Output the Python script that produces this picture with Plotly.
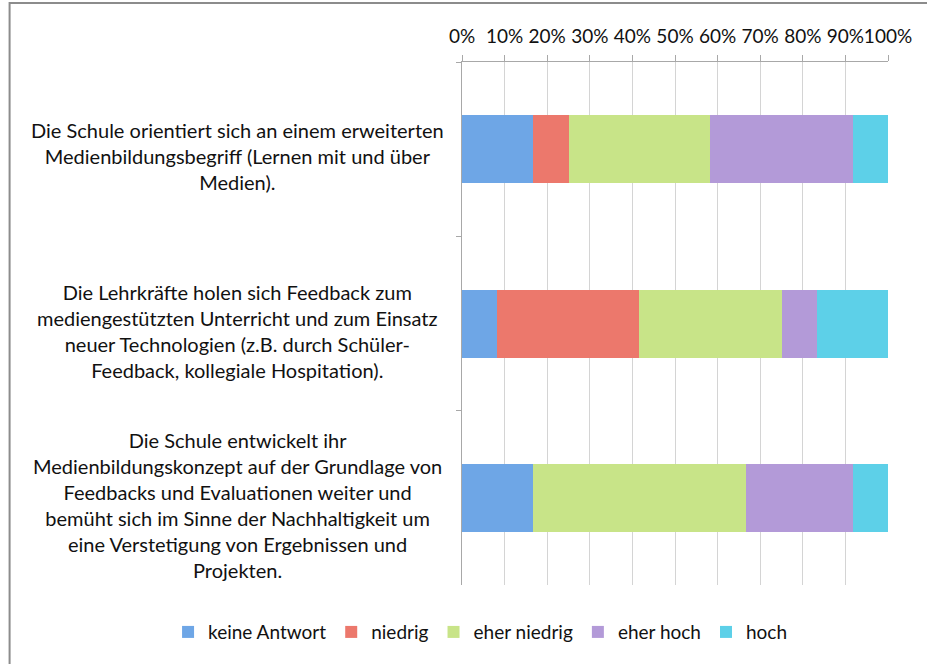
import plotly.graph_objects as go

# Statements (top to bottom)
statements = [
    "Die Schule orientiert sich an einem erweiterten<br>Medienbildungsbegriff (Lernen mit und über<br>Medien).",
    "Die Lehrkräfte holen sich Feedback zum<br>mediengestützten Unterricht und zum Einsatz<br>neuer Technologien (z.B. durch Schüler-<br>Feedback, kollegiale Hospitation).",
    "Die Schule entwickelt ihr<br>Medienbildungskonzept auf der Grundlage von<br>Feedbacks und Evaluationen weiter und<br>bemüht sich im Sinne der Nachhaltigkeit um<br>eine Verstetigung von Ergebnissen und<br>Projekten.",
]
categories = ["A1", "A2", "A3"]

# Share of answers per rating (percent)
keine_antwort = [16.7, 8.3, 16.7]
niedrig = [8.3, 33.3, 0.0]
eher_niedrig = [33.3, 33.4, 50.0]
eher_hoch = [33.4, 8.3, 25.0]
hoch = [8.3, 16.7, 8.3]

series = [
    ("keine Antwort", keine_antwort, "#6ea6e6"),
    ("niedrig", niedrig, "#ec786c"),
    ("eher niedrig", eher_niedrig, "#c8e488"),
    ("eher hoch", eher_hoch, "#b39ad8"),
    ("hoch", hoch, "#5dd0e8"),
]

x_ticks = list(range(0, 101, 10))

FONT = "Lato"
TEXT = "#111111"

fig = go.Figure()
for name, vals, color in series:
    fig.add_trace(go.Bar(
        y=categories, x=vals, name=name, orientation="h",
        marker=dict(color=color, line=dict(width=0)),
    ))

for cat, text in zip(categories, statements):
    fig.add_annotation(
        x=-0.528, xref="paper", y=cat, yref="y",
        text=text, showarrow=False, align="center",
        xanchor="center", yanchor="middle", yshift=-7,
        font=dict(family=FONT, size=20, color=TEXT),
    )

# outer frame of the chart area
fig.add_shape(
    type="rect", xref="paper", yref="paper",
    x0=-1.062, x1=3.0, y0=-2.0, y1=1.113,
    line=dict(color="#8c8c8c", width=2), fillcolor="rgba(0,0,0,0)",
    layer="below",
)

fig.update_layout(
    barmode="stack",
    bargap=0.61,
    width=927, height=664,
    margin=dict(l=462, r=39, t=62, b=79, autoexpand=False),
    paper_bgcolor="white", plot_bgcolor="white",
    font=dict(family=FONT, size=19, color=TEXT),
    showlegend=True,
    legend=dict(
        orientation="h", xref="paper", yref="paper",
        x=-0.69, xanchor="left", y=-0.09, yanchor="middle",
        font=dict(family=FONT, size=19, color=TEXT),
        itemwidth=30, traceorder="normal",
        bgcolor="rgba(0,0,0,0)",
    ),
    xaxis=dict(
        side="top", range=[0, 100], tickvals=x_ticks,
        ticktext=[f"{v}%" for v in x_ticks],
        tickangle=0,
        showgrid=True, gridcolor="#d4d4d4", gridwidth=1,
        showline=True, linecolor="#a8a8a8", linewidth=1,
        ticks="outside", ticklen=6, tickcolor="#a8a8a8",
        ticklabelstandoff=4,
        zeroline=False, fixedrange=True,
        tickfont=dict(family=FONT, size=19, color=TEXT),
    ),
    yaxis=dict(
        categoryorder="array", categoryarray=categories,
        autorange="reversed", tickson="boundaries",
        showticklabels=False, showgrid=False,
        showline=True, linecolor="#a8a8a8", linewidth=1,
        ticks="outside", ticklen=5, tickcolor="#a8a8a8",
        zeroline=False,
    ),
)

fig.write_html("out.html")
